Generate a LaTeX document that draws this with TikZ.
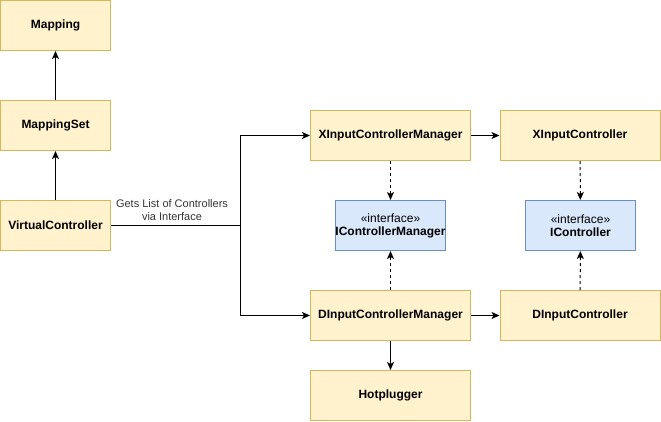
\documentclass[tikz,border=0pt]{standalone}
\usepackage{fontspec}
\setmainfont{Liberation Sans}
\usetikzlibrary{arrows.meta}
\definecolor{classfill}{HTML}{FFF2CC}
\definecolor{classline}{HTML}{D6B656}
\definecolor{ifacefill}{HTML}{DAE8FC}
\definecolor{ifaceline}{HTML}{6C8EBF}
\tikzset{
  classbox/.style={draw=classline, fill=classfill, line width=1pt, inner sep=0pt,
    minimum height=50pt, font=\fontsize{12}{14}\selectfont\bfseries},
  ifacebox/.style={draw=ifaceline, fill=ifacefill, line width=1pt, inner sep=0pt,
    minimum width=110pt, minimum height=50pt, align=center,
    font=\fontsize{12}{13}\selectfont},
  link/.style={line width=1pt, -{Stealth[length=8pt,width=7pt,inset=2pt]}},
  realize/.style={link, dash pattern=on 3pt off 3pt}
}
\begin{document}
\begin{tikzpicture}[x=1pt, y=-1pt]
  \useasboundingbox (0,0) rectangle (661,421);
  % classes (name/x/y/width/label)
  \foreach \name/\x/\y/\w/\desc in {
    map/55.5/25.5/110/Mapping,
    mapset/55.5/125.5/110/MappingSet,
    virt/55.5/225.5/110/VirtualController,
    ximgr/390.5/135.5/160/XInputControllerManager,
    xictl/580/135.5/160/XInputController,
    dimgr/390.5/315.5/160/DInputControllerManager,
    dictl/580/315.5/160/DInputController,
    hotplug/390.5/395.5/160/Hotplugger}
  {
    \node[classbox, minimum width=\w pt] (\name) at (\x,\y) {\desc};
  }
  % interfaces
  \node[ifacebox] (imgr) at (390.5,225.5) {«interface»\\\textbf{IControllerManager}};
  \node[ifacebox] (ictl) at (580.5,225.5) {«interface»\\\textbf{IController}};
  % mapping chain
  \draw[link] (virt) -- (mapset);
  \draw[link] (mapset) -- (map);
  % controller list
  \coordinate (split) at (240.5,225.5);
  \draw[line width=1pt] (virt) -- (split);
  \draw[link] (split) |- (ximgr);
  \draw[link] (split) |- (dimgr);
  \node[above=1pt, align=center, font=\fontsize{11}{13}\selectfont, text=black!80]
    at (172,225.5) {Gets List of Controllers\\via Interface};
  % managers to controllers
  \draw[link] (ximgr) -- (xictl);
  \draw[link] (dimgr) -- (dictl);
  \draw[link] (dimgr) -- (hotplug);
  % realizations
  \draw[realize] (ximgr) -- (imgr);
  \draw[realize] (dimgr) -- (imgr);
  \draw[realize] (xictl) -- (ictl);
  \draw[realize] (dictl) -- (ictl);
\end{tikzpicture}
\end{document}
